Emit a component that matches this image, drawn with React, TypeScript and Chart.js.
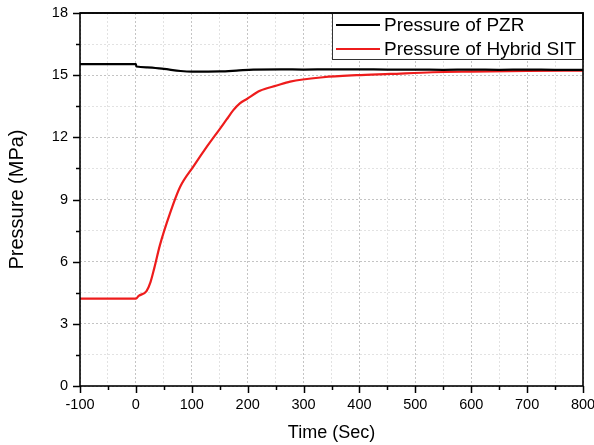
import React, { useEffect, useRef } from "react";
import { Chart, registerables } from "chart.js";

Chart.register(...registerables);

// ---- Data ----
const seriesLabels = ["Pressure of PZR", "Pressure of Hybrid SIT"];
const seriesColors = ["#000000", "#ee1c1c"];

const pzrTime = [-100, 0, 1, 20, 50, 80, 100, 150, 180, 210, 260, 300, 350, 400, 450, 500, 550, 600, 650, 700, 750, 800];
const pzrPressure = [15.53, 15.53, 15.42, 15.38, 15.3, 15.2, 15.17, 15.18, 15.22, 15.27, 15.28, 15.27, 15.28, 15.28, 15.27, 15.27, 15.26, 15.27, 15.26, 15.27, 15.26, 15.26];

const sitTime = [-100, 0, 5, 19, 26, 33, 43, 61, 79, 103, 127, 150, 162, 174, 186, 198, 222, 252, 276, 335, 395, 455, 531, 600, 700, 800];
const sitPressure = [4.22, 4.22, 4.35, 4.58, 5.0, 5.7, 6.8, 8.33, 9.6, 10.6, 11.55, 12.4, 12.85, 13.3, 13.64, 13.84, 14.25, 14.5, 14.69, 14.9, 15.0, 15.06, 15.14, 15.17, 15.2, 15.22];

const xTickLabels = [-100, 0, 100, 200, 300, 400, 500, 600, 700, 800];
const yTickLabels = [0, 3, 6, 9, 12, 15, 18];

const xTitle = "Time (Sec)";
const yTitle = "Pressure (MPa)";

const FONT = "'Liberation Sans', Arial, sans-serif";

const framePlugin = {
  id: "frameTicksLegend",
  afterDraw(chart: any) {
    const { ctx, chartArea } = chart;
    const { left, top, right, bottom } = chartArea;
    const xs = chart.scales.x;
    const ys = chart.scales.y;
    ctx.save();
    ctx.strokeStyle = "#000";
    ctx.lineWidth = 1.5;
    // tick marks
    ctx.beginPath();
    xs.ticks.forEach((t: any) => {
      const px = Math.round(xs.getPixelForValue(t.value)) + 0.5;
      const major = xTickLabels.includes(t.value);
      const len = major ? 7 : 4;
      ctx.moveTo(px, bottom);
      ctx.lineTo(px, bottom + len);
    });
    ys.ticks.forEach((t: any) => {
      const py = Math.round(ys.getPixelForValue(t.value)) + 0.5;
      const major = yTickLabels.includes(t.value);
      const len = major ? 7 : 4;
      ctx.moveTo(left, py);
      ctx.lineTo(left - len, py);
    });
    ctx.stroke();
    // frame
    ctx.lineWidth = 1.6;
    ctx.strokeRect(left, top, right - left, bottom - top);

    // legend box
    const bx = 332;
    const by = top;
    const bw = right - bx;
    const bh = 47;
    ctx.fillStyle = "#fff";
    ctx.fillRect(bx, by, bw, bh);
    ctx.lineWidth = 1;
    ctx.strokeStyle = "#333";
    ctx.strokeRect(bx + 0.5, by + 0.5, bw - 1, bh - 1);
    ctx.lineWidth = 1.6;
    ctx.strokeStyle = "#000";
    ctx.beginPath();
    ctx.moveTo(left, top);
    ctx.lineTo(right, top);
    ctx.lineTo(right, top + bh);
    ctx.stroke();

    ctx.font = `19px ${FONT}`;
    ctx.textBaseline = "middle";
    ctx.textAlign = "left";
    chart.data.datasets.forEach((ds: any, i: number) => {
      const yy = by + 12 + i * 24;
      ctx.strokeStyle = ds.borderColor;
      ctx.lineWidth = 2;
      ctx.beginPath();
      ctx.moveTo(bx + 4, yy);
      ctx.lineTo(bx + 48, yy);
      ctx.stroke();
      ctx.fillStyle = "#000";
      ctx.fillText(ds.label, bx + 52, yy + 1);
    });
    ctx.restore();
  },
};

export default function App() {
  const canvasRef = useRef<HTMLCanvasElement | null>(null);

  useEffect(() => {
    const canvas = canvasRef.current;
    if (!canvas) return;
    const gridColor = (labels: number[]) => (c: any) =>
      c.tick && labels.includes(c.tick.value) ? "#c4c4c4" : "#e2e2e2";
    const chart = new Chart(canvas, {
      type: "line",
      data: {
        datasets: [
          {
            label: seriesLabels[0],
            data: pzrTime.map((t, i) => ({ x: t, y: pzrPressure[i] })),
            borderColor: seriesColors[0],
            borderWidth: 2.2,
            pointRadius: 0,
            cubicInterpolationMode: "monotone",
            fill: false,
          },
          {
            label: seriesLabels[1],
            data: sitTime.map((t, i) => ({ x: t, y: sitPressure[i] })),
            borderColor: seriesColors[1],
            borderWidth: 2.2,
            pointRadius: 0,
            cubicInterpolationMode: "monotone",
            fill: false,
          },
        ],
      },
      options: {
        responsive: false,
        animation: false,
        devicePixelRatio: 1,
        layout: { padding: { top: 13, right: 11, left: 0, bottom: 0 } },
        plugins: {
          legend: { display: false },
          tooltip: { enabled: false },
        },
        scales: {
          x: {
            type: "linear",
            min: -100,
            max: 800,
            afterFit: (s: any) => {
              s.height = 59;
              s.paddingLeft = 0;
              s.paddingRight = 0;
            },
            ticks: {
              stepSize: 50,
              autoSkip: false,
              maxRotation: 0,
              padding: 10,
              color: "#000",
              font: { family: FONT, size: 14.5 },
              callback: (v: any) => (xTickLabels.includes(Number(v)) ? String(v) : ""),
            },
            grid: {
              color: gridColor(xTickLabels),
              lineWidth: 1,
              drawTicks: false,
            },
            border: { display: false, dash: [2, 2] },
            title: {
              display: true,
              text: xTitle,
              color: "#000",
              font: { family: FONT, size: 18 },
              padding: { top: 0, bottom: 1 },
            },
          },
          y: {
            type: "linear",
            min: 0,
            max: 18,
            afterFit: (s: any) => {
              s.width = 80;
              s.paddingTop = 0;
              s.paddingBottom = 0;
            },
            ticks: {
              stepSize: 1.5,
              autoSkip: false,
              padding: 12,
              color: "#000",
              font: { family: FONT, size: 14.5 },
              callback: (v: any) => (yTickLabels.includes(Number(v)) ? String(v) : ""),
            },
            grid: {
              color: gridColor(yTickLabels),
              lineWidth: 1,
              drawTicks: false,
            },
            border: { display: false, dash: [2, 2] },
            title: {
              display: true,
              text: yTitle,
              color: "#000",
              font: { family: FONT, size: 20 },
              padding: { top: 5, bottom: 0 },
            },
          },
        },
      } as any,
      plugins: [framePlugin],
    });
    return () => chart.destroy();
  }, []);

  return (
    <div style={{ position: "fixed", left: 0, top: 0, width: 594, height: 445, background: "#fff" }}>
      <canvas ref={canvasRef} width={594} height={445} style={{ display: "block" }} />
    </div>
  );
}
